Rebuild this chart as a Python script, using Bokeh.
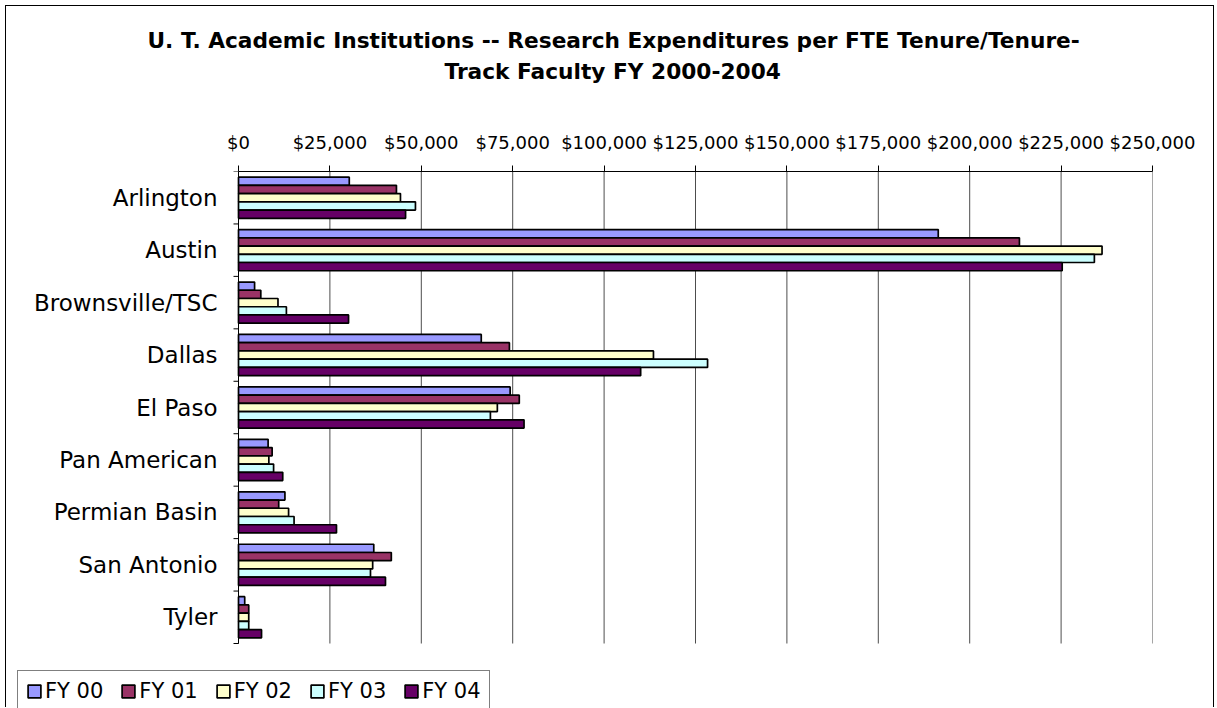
import numpy as np
from bokeh.plotting import figure
from bokeh.models import (Range1d, FixedTicker, NumeralTickFormatter, Title,
                          Legend, LegendItem, ColumnDataSource)
from bokeh.core.properties import value
from bokeh.embed import file_html
from bokeh.resources import INLINE

institutions = ["Arlington", "Austin", "Brownsville/TSC", "Dallas", "El Paso",
                "Pan American", "Permian Basin", "San Antonio", "Tyler"]
series_names = ["FY 00", "FY 01", "FY 02", "FY 03", "FY 04"]
fy00 = [30300, 191400, 4400, 66400, 74300, 8100, 12700, 37000, 1700]
fy01 = [43200, 213600, 6100, 74100, 76800, 9200, 11000, 41800, 2800]
fy02 = [44300, 236200, 10800, 113500, 70800, 8300, 13700, 36700, 2800]
fy03 = [48400, 234100, 13100, 128300, 68900, 9600, 15200, 36100, 2800]
fy04 = [45700, 225300, 30100, 110000, 78100, 12100, 26800, 40200, 6300]
series_values = [fy00, fy01, fy02, fy03, fy04]
colors = ["#9999FF", "#993366", "#FFFFCC", "#CCFFFF", "#660066"]
x_ticks = list(range(0, 250001, 25000))

title_line1 = "U. T. Academic Institutions -- Research Expenditures per FTE Tenure/Tenure-"
title_line2 = "Track Faculty FY 2000-2004"

FONT = "DejaVu Sans"
n = len(institutions)
x_max = x_ticks[-1]

# layout (pixels inside the figure)
W, H = 1209, 702
top_px, right_px = 165, 63
axis_left_px = 232            # where x = 0 sits
plot_w_px = W - right_px - axis_left_px
data_h_px = 472               # height taken by the nine categories
x_lo = -x_max * axis_left_px / plot_w_px
y_hi = n * (H - top_px) / data_h_px

p = figure(width=W, height=H, output_backend="svg", toolbar_location=None,
           x_range=Range1d(x_lo, x_max), y_range=Range1d(y_hi, 0),
           x_axis_location="above", y_axis_location=None,
           min_border_left=0, min_border_right=right_px,
           min_border_top=top_px, min_border_bottom=0)
p.styles = {"margin": "5px 0px 0px 5px",
            "border-left": "1px solid black",
            "border-top": "1px solid black",
            "border-right": "1px solid black"}
p.outline_line_color = None
p.background_fill_color = "white"
p.border_fill_color = "white"
p.grid.visible = False

# titles: spacer, then line 2, then line 1 (stacked outward from the axis)
p.add_layout(Title(text=" ", text_font_size="1px", standoff=40), "above")
p.add_layout(Title(text=title_line2, align="left", offset=438, text_font=FONT,
                   text_font_size="21.7px", text_font_style="bold",
                   text_color="black", standoff=4), "above")
p.add_layout(Title(text=title_line1, align="left", offset=141, text_font=FONT,
                   text_font_size="21.7px", text_font_style="bold",
                   text_color="black", standoff=4), "above")

# vertical grid lines (only across the category area)
p.segment(x0=x_ticks, y0=[0] * len(x_ticks), x1=x_ticks, y1=[n] * len(x_ticks),
          line_color="#4d4d4d", line_width=1)

# bars
pitch = 0.157
items = []
for j, (name, vals, col) in enumerate(zip(series_names, series_values, colors)):
    ys = [i + 0.5 + (j - 2) * pitch for i in range(n)]
    src = ColumnDataSource(dict(y=ys, right=vals))
    r = p.hbar(y="y", left=0, right="right", height=pitch, source=src,
               fill_color=col, line_color="black", line_width=1.7)
    items.append(LegendItem(label=name, renderers=[r]))

# category axis: line, boundary ticks, labels
p.line(x=[0, 0], y=[0, n], line_color="black", line_width=1)
bounds_y = list(range(n + 1))
p.ray(x=[0] * len(bounds_y), y=bounds_y, length=5, length_units="screen",
      angle=np.pi, line_color="black", line_width=1)
centers = [i + 0.5 for i in range(n)]
p.text(x=[0] * n, y=centers, text=institutions, x_offset=-21,
       text_align="right", text_baseline="middle", text_font=value(FONT),
       text_font_size="23px", text_color="black")

# x axis (top)
xa = p.xaxis[0]
xa.ticker = FixedTicker(ticks=x_ticks)
xa.formatter = NumeralTickFormatter(format="$0,0")
xa.bounds = (0, x_max)
xa.axis_line_color = "black"
xa.major_tick_out = 6
xa.major_tick_in = 0
xa.minor_tick_out = 0
xa.minor_tick_in = 0
xa.major_label_standoff = 13
xa.major_label_text_font = FONT
xa.major_label_text_font_size = "18px"
xa.major_label_text_color = "black"

legend = Legend(items=items, orientation="horizontal", location=(11, -4),
                border_line_color="black", border_line_width=1,
                background_fill_color="white", background_fill_alpha=1,
                label_text_font=FONT, label_text_font_size="21px",
                label_text_color="black", glyph_width=16, glyph_height=16,
                label_standoff=3, spacing=17, padding=8, margin=0)
p.add_layout(legend, "center")

open("out.html", "w").write(file_html(p, INLINE))
